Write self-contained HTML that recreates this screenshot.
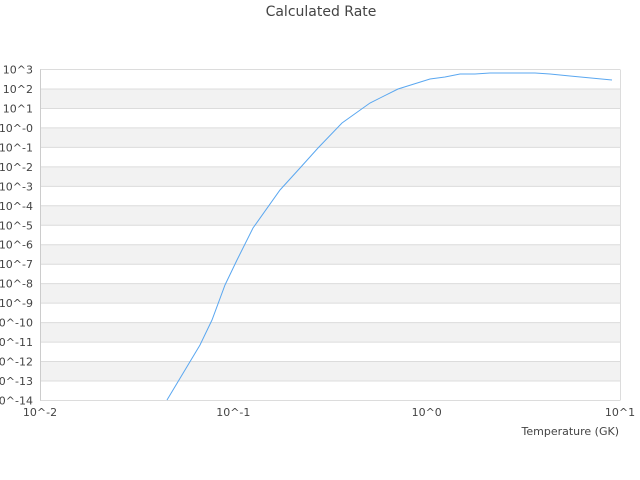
<!DOCTYPE html>
<html><head><style>body{margin:0;background:#fff}svg{display:block}text{font-family:"DejaVu Sans","Liberation Sans",sans-serif;fill:#444;font-size:11px}</style></head>
<body>
<svg width="640" height="480" xmlns="http://www.w3.org/2000/svg">
<text x="321" y="16" text-anchor="middle" font-size="14" style="font-size:14px">Calculated Rate</text>
<g fill="#f2f2f2">
<rect x="40" y="88.97" width="580" height="19.47"/>
<rect x="40" y="127.91" width="580" height="19.47"/>
<rect x="40" y="166.85" width="580" height="19.47"/>
<rect x="40" y="205.79" width="580" height="19.47"/>
<rect x="40" y="244.74" width="580" height="19.47"/>
<rect x="40" y="283.68" width="580" height="19.47"/>
<rect x="40" y="322.62" width="580" height="19.47"/>
<rect x="40" y="361.56" width="580" height="19.47"/>
</g>
<g stroke="#dcdcdc">
<line x1="40" x2="620" y1="69.5" y2="69.5"/>
<line x1="40" x2="620" y1="88.97" y2="88.97"/>
<line x1="40" x2="620" y1="108.44" y2="108.44"/>
<line x1="40" x2="620" y1="127.91" y2="127.91"/>
<line x1="40" x2="620" y1="147.38" y2="147.38"/>
<line x1="40" x2="620" y1="166.85" y2="166.85"/>
<line x1="40" x2="620" y1="186.32" y2="186.32"/>
<line x1="40" x2="620" y1="205.79" y2="205.79"/>
<line x1="40" x2="620" y1="225.26" y2="225.26"/>
<line x1="40" x2="620" y1="244.74" y2="244.74"/>
<line x1="40" x2="620" y1="264.21" y2="264.21"/>
<line x1="40" x2="620" y1="283.68" y2="283.68"/>
<line x1="40" x2="620" y1="303.15" y2="303.15"/>
<line x1="40" x2="620" y1="322.62" y2="322.62"/>
<line x1="40" x2="620" y1="342.09" y2="342.09"/>
<line x1="40" x2="620" y1="361.56" y2="361.56"/>
<line x1="40" x2="620" y1="381.03" y2="381.03"/>
<line x1="40" x2="620" y1="400.5" y2="400.5"/>
<line x1="40.5" x2="40.5" y1="69.5" y2="400.5" stroke="#ccc"/>
<line x1="620.5" x2="620.5" y1="69.5" y2="400.5"/>
</g>
<g text-anchor="end">
<text x="33" y="73.5">10^3</text>
<text x="33" y="93">10^2</text>
<text x="33" y="112.4">10^1</text>
<text x="33" y="131.9">10^-0</text>
<text x="33" y="151.4">10^-1</text>
<text x="33" y="170.9">10^-2</text>
<text x="33" y="190.3">10^-3</text>
<text x="33" y="209.8">10^-4</text>
<text x="33" y="229.3">10^-5</text>
<text x="33" y="248.7">10^-6</text>
<text x="33" y="268.2">10^-7</text>
<text x="33" y="287.7">10^-8</text>
<text x="33" y="307.2">10^-9</text>
<text x="33" y="326.6">10^-10</text>
<text x="33" y="346.1">10^-11</text>
<text x="33" y="365.6">10^-12</text>
<text x="33" y="385">10^-13</text>
<text x="33" y="404.5">10^-14</text>
</g>
<g text-anchor="middle">
<text x="40" y="416">10^-2</text>
<text x="233.3" y="416">10^-1</text>
<text x="426.7" y="416">10^0</text>
<text x="620" y="416">10^1</text>
</g>
<text x="619" y="435" text-anchor="end">Temperature (GK)</text>
<polyline fill="none" stroke="#5aa7f0" stroke-width="1" points="167,400 185,370 200,345 212,320 225,285 237,260 253,228 280,190 300,168 318,148 342,123 370,103 398,89 430,79 445,77 460,74 475,74 490,73 535,73 550,74 570,76 612,80"/>
</svg>
</body></html>
